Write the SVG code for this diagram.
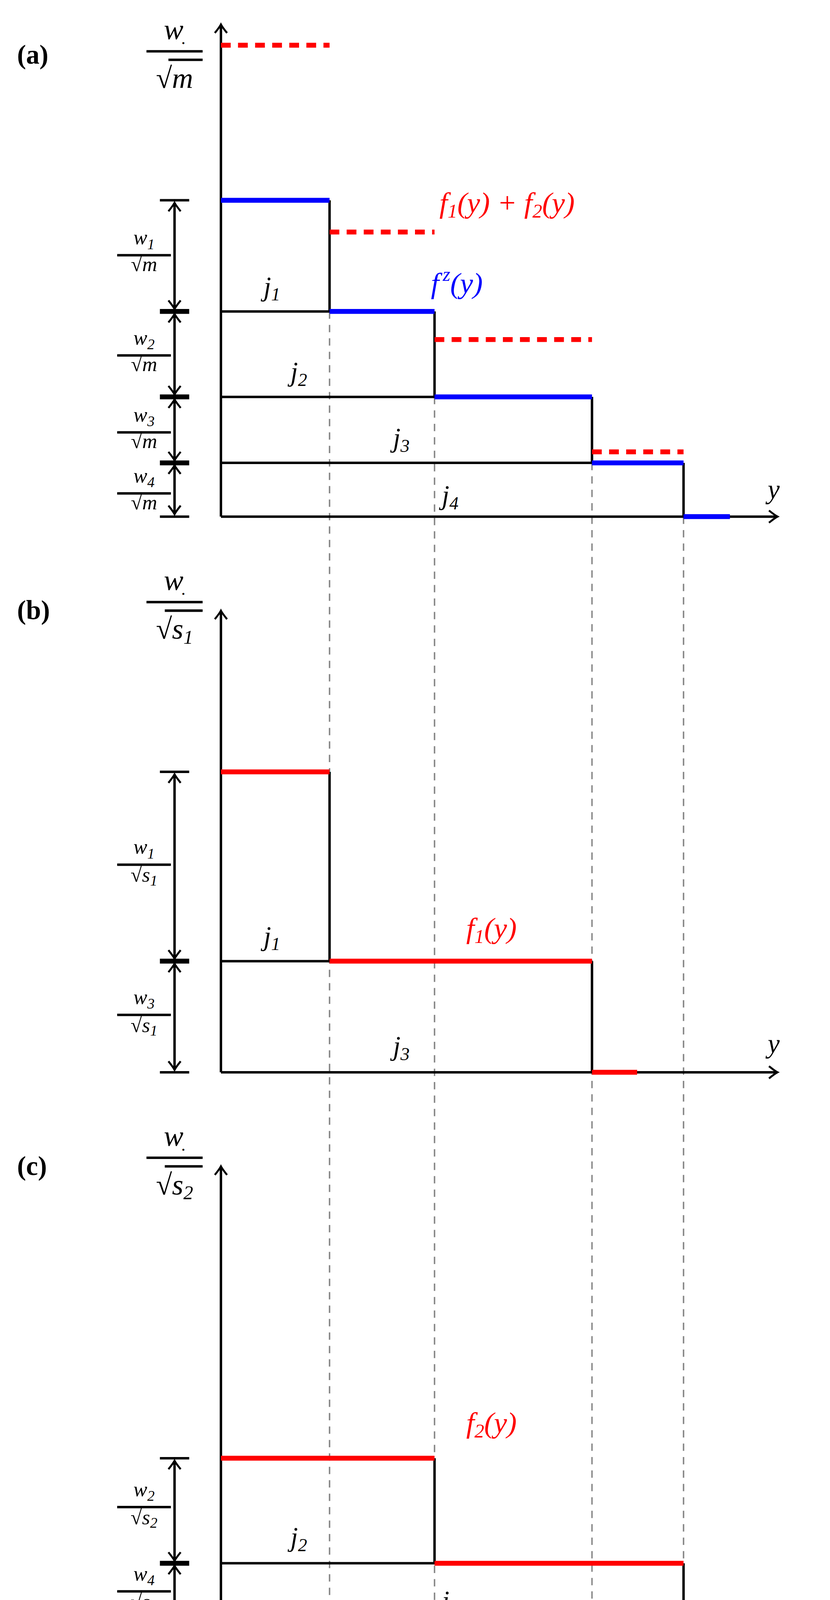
<svg xmlns="http://www.w3.org/2000/svg" width="2126" height="4876" viewBox="0 0 2126 4876">
<defs>
<style>
.t{font-family:"Liberation Serif",serif;font-style:italic;fill:#000}
.lbl{font-family:"Liberation Serif",serif;font-weight:bold;font-size:22px}
.ax{stroke:#000;stroke-width:2;fill:none}
.bk{stroke:#000;stroke-width:2;fill:none}
.bl{stroke:#0000ff;stroke-width:4;fill:none}
.rd{stroke:#ff0000;stroke-width:4;fill:none}
.rdd{stroke:#ff0000;stroke-width:4;fill:none;stroke-dasharray:8,6}
.gd{stroke:#888;stroke-width:1.2;fill:none;stroke-dasharray:6,5}
.dim{stroke:#000;stroke-width:2;fill:none;marker-start:url(#a2);marker-end:url(#a1)}
.tk{stroke:#000;stroke-width:2}
.tkb{stroke:#000;stroke-width:4}
.r{fill:#ff0000}.b{fill:#0000ff}
</style>
<marker id="a1" viewBox="-10 -6 12 12" refX="0" refY="0" markerWidth="12" markerHeight="12" markerUnits="userSpaceOnUse" orient="auto"><path d="M-7,-5 Q-2,-1 0,0 Q-2,1 -7,5" fill="none" stroke="#000" stroke-width="1.6"/></marker>
<marker id="a2" viewBox="-10 -6 12 12" refX="0" refY="0" markerWidth="12" markerHeight="12" markerUnits="userSpaceOnUse" orient="auto-start-reverse"><path d="M-7,-5 Q-2,-1 0,0 Q-2,1 -7,5" fill="none" stroke="#000" stroke-width="1.6"/></marker>
</defs>
<rect width="2126" height="4876" fill="#fff"/>
<g transform="scale(3.1265)">
<g id="connectors">
<path class="gd" d="M270,255V1560M356,325V1560M485,379V1560M560,423V1560"/>
<path class="gd" d="M270,164V255M356,255V325M485,325V379M560,379V423"/>
</g>
<g id="panel-a">
<text class="lbl" x="14" y="52">(a)</text>
<path class="ax" d="M181,423V20" marker-end="url(#a1)"/>
<path class="ax" d="M181,423H637" marker-end="url(#a1)"/>
<path class="bk" d="M181,255H270M181,325H356M181,379H485M270,164V255M356,255V325M485,325V379M560,379V423"/>
<path class="bl" d="M181,164H270M270,255H356M356,325H485M485,379H560M560,423H598"/>
<path class="rdd" d="M181,37H270M270,190H356M356,278H485M485,370H560"/>
<path class="dim" d="M143,166V253"/>
<path class="dim" d="M143,257V323"/>
<path class="dim" d="M143,327V377"/>
<path class="dim" d="M143,381V421"/>
<path class="tk" d="M131,164H155M131,423H155"/>
<path class="tkb" d="M131,255H155M131,325H155M131,379H155"/>
<text class="t" x="143" y="32" font-size="24" text-anchor="middle">w<tspan font-size="14" dx="-2" dy="8">·</tspan></text>
<path class="bk" d="M120,42H166"/>
<text class="t" x="143" y="72" font-size="24" text-anchor="middle">√m</text>
<path class="bk" d="M138,49H166" stroke-width="1.5"/>
<g font-size="17">
<text class="t" x="118" y="200" text-anchor="middle">w<tspan font-size="12" dy="4">1</tspan></text>
<text class="t" x="118" y="222" text-anchor="middle">√m</text>
<text class="t" x="118" y="282" text-anchor="middle">w<tspan font-size="12" dy="4">2</tspan></text>
<text class="t" x="118" y="304" text-anchor="middle">√m</text>
<text class="t" x="118" y="345" text-anchor="middle">w<tspan font-size="12" dy="4">3</tspan></text>
<text class="t" x="118" y="367" text-anchor="middle">√m</text>
<text class="t" x="118" y="395" text-anchor="middle">w<tspan font-size="12" dy="4">4</tspan></text>
<text class="t" x="118" y="417" text-anchor="middle">√m</text>
</g>
<path class="bk" stroke-width="1.3" d="M96,209H140M96,291H140M96,354H140M96,404H140"/>
<text class="t r" x="360" y="174" font-size="24">f<tspan font-size="16" dy="4">1</tspan><tspan dy="-4">(y) + f</tspan><tspan font-size="16" dy="4">2</tspan><tspan dy="-4">(y)</tspan></text>
<text class="t b" x="353" y="240" font-size="24">f<tspan font-size="16" dx="3" dy="-10">z</tspan><tspan dy="10">(y)</tspan></text>
<g font-size="22">
<text class="t" x="216" y="242">j<tspan font-size="15" dy="4">1</tspan></text>
<text class="t" x="238" y="312">j<tspan font-size="15" dy="4">2</tspan></text>
<text class="t" x="322" y="366">j<tspan font-size="15" dy="4">3</tspan></text>
<text class="t" x="362" y="413">j<tspan font-size="15" dy="4">4</tspan></text>
<text class="t" x="629" y="408">y</text>
</g>
</g>
<g id="panel-b">
<text class="lbl" x="14" y="507">(b)</text>
<path class="ax" d="M181,878V500" marker-end="url(#a1)"/>
<path class="ax" d="M181,878H637" marker-end="url(#a1)"/>
<path class="bk" d="M181,787H270M270,632V787M485,787V878"/>
<path class="rd" d="M181,632H270M270,787H485M485,878H522"/>
<path class="dim" d="M143,634V785"/>
<path class="dim" d="M143,789V876"/>
<path class="tk" d="M131,632H155M131,878H155"/>
<path class="tkb" d="M131,787H155"/>
<text class="t" x="143" y="483" font-size="24" text-anchor="middle">w<tspan font-size="14" dx="-2" dy="8">·</tspan></text>
<path class="bk" d="M120,493H166"/>
<text class="t" x="143" y="523" font-size="24" text-anchor="middle">√s<tspan font-size="16" dy="4">1</tspan></text>
<path class="bk" d="M135,500H166" stroke-width="1.5"/>
<g font-size="17">
<text class="t" x="118" y="699" text-anchor="middle">w<tspan font-size="12" dy="4">1</tspan></text>
<text class="t" x="118" y="722" text-anchor="middle">√s<tspan font-size="12" dy="3">1</tspan></text>
<text class="t" x="118" y="822" text-anchor="middle">w<tspan font-size="12" dy="4">3</tspan></text>
<text class="t" x="118" y="845" text-anchor="middle">√s<tspan font-size="12" dy="3">1</tspan></text>
</g>
<path class="bk" stroke-width="1.3" d="M96,708H140M96,831H140"/>
<text class="t r" x="382" y="768" font-size="24">f<tspan font-size="16" dy="4">1</tspan><tspan dy="-4">(y)</tspan></text>
<g font-size="22">
<text class="t" x="216" y="774">j<tspan font-size="15" dy="4">1</tspan></text>
<text class="t" x="322" y="864">j<tspan font-size="15" dy="4">3</tspan></text>
<text class="t" x="629" y="862">y</text>
</g>
</g>
<g id="panel-c">
<text class="lbl" x="14" y="962">(c)</text>
<path class="ax" d="M181,1333V955" marker-end="url(#a1)"/>
<path class="ax" d="M181,1333H637" marker-end="url(#a1)"/>
<path class="bk" d="M181,1280H356M356,1194V1280M560,1280V1333"/>
<path class="rd" d="M181,1194H356M356,1280H560M560,1333H598"/>
<path class="dim" d="M143,1196V1278"/>
<path class="dim" d="M143,1282V1331"/>
<path class="tk" d="M131,1194H155M131,1333H155"/>
<path class="tkb" d="M131,1280H155"/>
<text class="t" x="143" y="938" font-size="24" text-anchor="middle">w<tspan font-size="14" dx="-2" dy="8">·</tspan></text>
<path class="bk" d="M120,948H166"/>
<text class="t" x="143" y="978" font-size="24" text-anchor="middle">√s<tspan font-size="16" dy="4">2</tspan></text>
<path class="bk" d="M135,955H166" stroke-width="1.5"/>
<g font-size="17">
<text class="t" x="118" y="1225" text-anchor="middle">w<tspan font-size="12" dy="4">2</tspan></text>
<text class="t" x="118" y="1248" text-anchor="middle">√s<tspan font-size="12" dy="3">2</tspan></text>
<text class="t" x="118" y="1294" text-anchor="middle">w<tspan font-size="12" dy="4">4</tspan></text>
<text class="t" x="118" y="1317" text-anchor="middle">√s<tspan font-size="12" dy="3">2</tspan></text>
</g>
<path class="bk" stroke-width="1.3" d="M96,1234H140M96,1303H140"/>
<text class="t r" x="382" y="1173" font-size="24">f<tspan font-size="16" dy="4">2</tspan><tspan dy="-4">(y)</tspan></text>
<g font-size="22">
<text class="t" x="238" y="1266">j<tspan font-size="15" dy="4">2</tspan></text>
<text class="t" x="362" y="1318">j<tspan font-size="15" dy="4">4</tspan></text>
<text class="t" x="645" y="1341">y</text>
</g>
</g>
<g id="bottom-dims">
<path class="dim" d="M183,1388H268"/>
<path class="dim" d="M183,1443H354"/>
<path class="dim" d="M183,1492H483"/>
<path class="dim" d="M183,1548H558"/>
<path class="tk" d="M181,1376V1400M270,1376V1400M181,1431V1455M356,1431V1455M181,1480V1504M485,1480V1504M181,1536V1560M560,1536V1560"/>
<g font-size="22">
<text class="t" x="226" y="1372" text-anchor="middle">p<tspan font-size="15" dy="4">1</tspan><tspan dy="-4">/w</tspan><tspan font-size="15" dy="4">1</tspan></text>
<text class="t" x="270" y="1427" text-anchor="middle">p<tspan font-size="15" dy="4">2</tspan><tspan dy="-4">/w</tspan><tspan font-size="15" dy="4">2</tspan></text>
<text class="t" x="333" y="1476" text-anchor="middle">p<tspan font-size="15" dy="4">3</tspan><tspan dy="-4">/w</tspan><tspan font-size="15" dy="4">3</tspan></text>
<text class="t" x="370" y="1532" text-anchor="middle">p<tspan font-size="15" dy="4">4</tspan><tspan dy="-4">/w</tspan><tspan font-size="15" dy="4">4</tspan></text>
</g>
</g>
</g>
</svg>
